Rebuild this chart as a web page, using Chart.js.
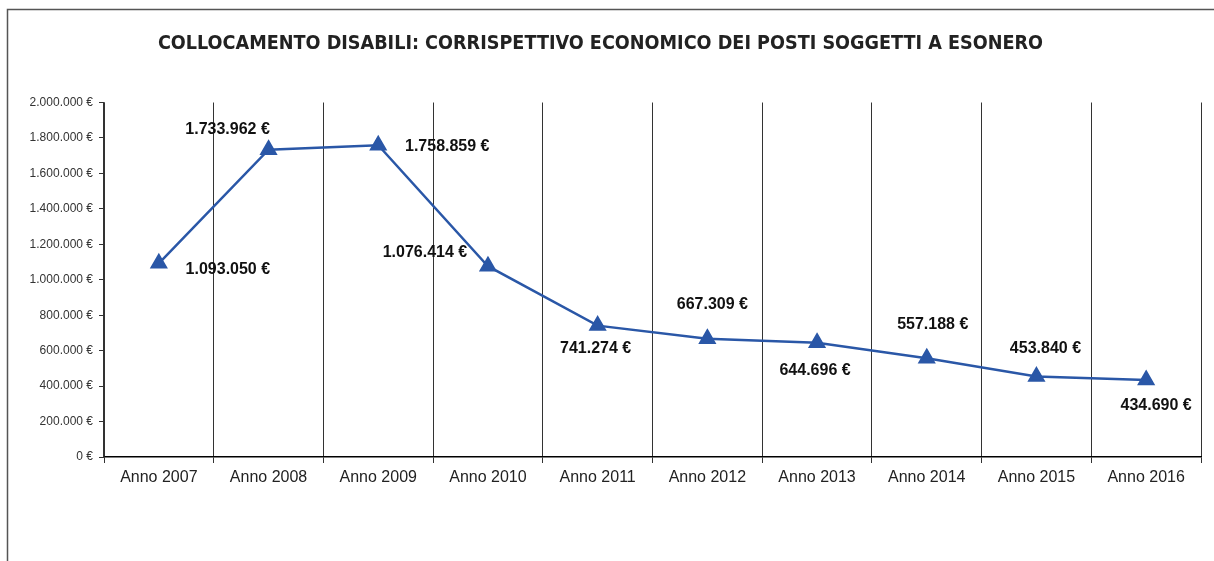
<!DOCTYPE html>
<html>
<head>
<meta charset="utf-8">
<script src="https://cdn.jsdelivr.net/npm/chart.js@4"></script>
<style>
  html, body { margin: 0; padding: 0; background: #fff; }
  #wrap { width: 1214px; height: 561px; position: relative; }
</style>
</head>
<body>
<div id="wrap"><canvas id="chart"></canvas></div>
<script>
const categories = ["Anno 2007", "Anno 2008", "Anno 2009", "Anno 2010", "Anno 2011", "Anno 2012", "Anno 2013", "Anno 2014", "Anno 2015", "Anno 2016"];
const values = [1093050, 1733962, 1758859, 1076414, 741274, 667309, 644696, 557188, 453840, 434690];
const yTicks = [0, 200000, 400000, 600000, 800000, 1000000, 1200000, 1400000, 1600000, 1800000, 2000000];

function euro(v) {
    return String(v).replace(/\B(?=(\d{3})+(?!\d))/g, ".") + " €";
}

// frame round the chart: left and top edges only
const framePlugin = {
    id: "frame",
    beforeDraw: function (chart) {
        var ctx = chart.ctx;
        ctx.save();
        ctx.lineWidth = 1.5;
        ctx.strokeStyle = "#555";
        ctx.beginPath();
        ctx.moveTo(7.5, 561);
        ctx.lineTo(7.5, 9.5);
        ctx.lineTo(1214, 9.5);
        ctx.stroke();
        ctx.restore();
    }
};

// value labels placed by hand around each point, like the original
const valueLabels = {
    id: "valueLabels",
    afterDatasetsDraw: function (chart, args, opts) {
        var ctx = chart.ctx;
        var meta = chart.getDatasetMeta(0);
        ctx.save();
        ctx.font = "bold 16px 'Liberation Sans', sans-serif";
        ctx.fillStyle = "#111";
        ctx.textAlign = "center";
        ctx.textBaseline = "middle";
        meta.data.forEach(function (pt, i) {
            var off = opts.offsets[i];
            ctx.fillText(euro(values[i]), pt.x + off[0], pt.y + off[1]);
        });
        ctx.restore();
    }
};

new Chart(document.getElementById("chart"), {
    type: "line",
    data: {
        labels: categories,
        datasets: [{
            data: values,
            borderColor: "#2a57a7",
            backgroundColor: "#2a57a7",
            borderWidth: 2.5,
            pointStyle: "triangle",
            pointRadius: 8,
            pointHoverRadius: 8,
            tension: 0,
            fill: false
        }]
    },
    options: {
        responsive: true,
        maintainAspectRatio: false,
        animation: false,
        layout: { padding: { left: 0, right: 13, top: 0, bottom: 0 } },
        plugins: {
            legend: { display: false },
            tooltip: { enabled: false },
            title: {
                display: true,
                text: "COLLOCAMENTO DISABILI: CORRISPETTIVO ECONOMICO DEI POSTI SOGGETTI A ESONERO",
                color: "#222",
                font: { family: "'DejaVu Sans Condensed', sans-serif", size: 19.6, weight: "bold" },
                padding: { top: 32, bottom: 47 }
            },
            valueLabels: {
                offsets: [[69, 6], [-41, -20], [69, 1], [-63, -14], [-2, 23], [5, -34], [-2, 28], [6, -34], [9, -28], [10, 26]]
            }
        },
        scales: {
            x: {
                offset: true,
                grid: { offset: true, color: "#333", lineWidth: 1, tickLength: 6 },
                border: { color: "#000", width: 1.5 },
                ticks: { color: "#222", padding: 5, font: { family: "'Liberation Sans', sans-serif", size: 16 } },
                afterFit: function (s) { s.height = 104; }
            },
            y: {
                min: 0,
                max: 2000000,
                afterBuildTicks: function (s) { s.ticks = yTicks.map(function (v) { return { value: v }; }); },
                grid: { drawOnChartArea: false, drawTicks: true, tickLength: 5, color: "#333" },
                border: { color: "#333", width: 1.5 },
                ticks: {
                    color: "#333",
                    padding: 6,
                    font: { family: "'Liberation Sans', sans-serif", size: 12 },
                    callback: function (v) { return euro(v); }
                },
                afterFit: function (s) { s.width = 104; }
            }
        }
    },
    plugins: [framePlugin, valueLabels]
});
</script>
</body>
</html>
